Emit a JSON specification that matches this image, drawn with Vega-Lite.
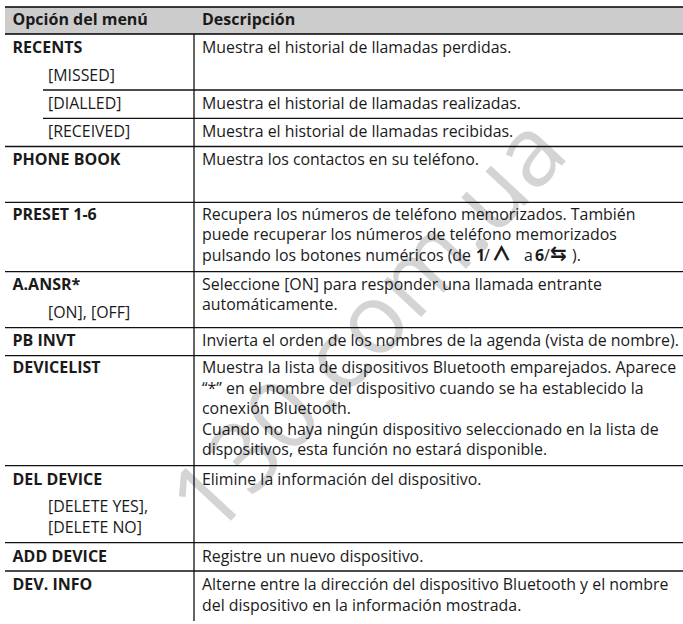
{
  "$schema": "https://vega.github.io/schema/vega-lite/v6.json",
  "width": 683,
  "height": 624,
  "padding": 0,
  "autosize": {"type": "none"},
  "background": "white",
  "config": {"view": {"stroke": null}},
  "datasets": {
    "watermark": [{"text": "130.com.ua", "x": 371, "y": 328}],
    "header": [{"x1": 5, "x2": 683, "y1": 7, "y2": 34}],
    "headerlines": [{"x1": 5, "x2": 683, "y": 7}, {"x1": 5, "x2": 683, "y": 34}],
    "hlines": [
      {"x1": 43, "x2": 683, "y": 90},
      {"x1": 43, "x2": 683, "y": 118.3},
      {"x1": 5, "x2": 683, "y": 146.5},
      {"x1": 5, "x2": 683, "y": 202.3},
      {"x1": 5, "x2": 683, "y": 271.7},
      {"x1": 5, "x2": 683, "y": 327.6},
      {"x1": 5, "x2": 683, "y": 355.6},
      {"x1": 5, "x2": 683, "y": 465.7},
      {"x1": 5, "x2": 683, "y": 542.7},
      {"x1": 5, "x2": 683, "y": 571}
    ],
    "vlines": [{"x": 194, "y1": 34, "y2": 621}],
    "headtext": [
      {"text": "Opción del menú", "x": 12.5, "y": 24.5},
      {"text": "Descripción", "x": 202, "y": 24.5}
    ],
    "options": [
      {"text": "RECENTS", "y": 52.5},
      {"text": "PHONE BOOK", "y": 164.5},
      {"text": "PRESET 1-6", "y": 219.5},
      {"text": "A.ANSR*", "y": 289.5},
      {"text": "PB INVT", "y": 345.5},
      {"text": "DEVICELIST", "y": 373},
      {"text": "DEL DEVICE", "y": 484.5},
      {"text": "ADD DEVICE", "y": 561.5},
      {"text": "DEV. INFO", "y": 590}
    ],
    "subs": [
      {"text": "[MISSED]", "y": 80.5},
      {"text": "[DIALLED]", "y": 108.5},
      {"text": "[RECEIVED]", "y": 136.5},
      {"text": "[ON], [OFF]", "y": 317.5},
      {"text": "[DELETE YES],", "y": 511.5},
      {"text": "[DELETE NO]", "y": 532.5}
    ],
    "desc": [
      {"text": "Muestra el historial de llamadas perdidas.", "y": 52.5},
      {"text": "Muestra el historial de llamadas realizadas.", "y": 108.5},
      {"text": "Muestra el historial de llamadas recibidas.", "y": 136.5},
      {"text": "Muestra los contactos en su teléfono.", "y": 164.5},
      {"text": "Recupera los números de teléfono memorizados. También", "y": 219.5},
      {"text": "puede recuperar los números de teléfono memorizados", "y": 240},
      {"text": "pulsando los botones numéricos (de ", "y": 260.5},
      {"text": "Seleccione [ON] para responder una llamada entrante", "y": 289.5},
      {"text": "automáticamente.", "y": 310},
      {"text": "Invierta el orden de los nombres de la agenda (vista de nombre).", "y": 345.5},
      {"text": "Muestra la lista de dispositivos Bluetooth emparejados. Aparece", "y": 373},
      {"text": "“*” en el nombre del dispositivo cuando se ha establecido la", "y": 393.5},
      {"text": "conexión Bluetooth.", "y": 414},
      {"text": "Cuando no haya ningún dispositivo seleccionado en la lista de", "y": 434.5},
      {"text": "dispositivos, esta función no estará disponible.", "y": 455},
      {"text": "Elimine la información del dispositivo.", "y": 484.5},
      {"text": "Registre un nuevo dispositivo.", "y": 561.5},
      {"text": "Alterne entre la dirección del dispositivo Bluetooth y el nombre", "y": 590},
      {"text": "del dispositivo en la información mostrada.", "y": 610.5}
    ],
    "segreg": [
      {"text": "/", "x": 484, "y": 260.5},
      {"text": "a", "x": 524, "y": 260.5},
      {"text": "/", "x": 544, "y": 260.5},
      {"text": ").", "x": 572, "y": 260.5}
    ],
    "segbold": [
      {"text": "1", "x": 476, "y": 260.5},
      {"text": "6", "x": 535, "y": 260.5}
    ],
    "chevron": [{"text": "∧", "x": 491.5, "y": 260.5}],
    "repeat": [{"text": "⇆", "x": 550, "y": 260}]
  },
  "layer": [
    {
      "data": {"name": "watermark"},
      "mark": {"type": "text", "font": "Open Sans", "fontWeight": "normal", "fontSize": 97, "angle": -47, "align": "center", "baseline": "middle", "color": "#d4d4d4"},
      "encoding": {
        "x": {"field": "x", "type": "quantitative", "scale": {"domain": [0, 683], "nice": false, "zero": false}, "axis": null},
        "y": {"field": "y", "type": "quantitative", "scale": {"domain": [0, 624], "nice": false, "zero": false, "reverse": true}, "axis": null},
        "text": {"field": "text"}
      }
    },
    {
      "data": {"name": "header"},
      "mark": {"type": "rect", "color": "#cccccc"},
      "encoding": {
        "x": {"field": "x1", "type": "quantitative", "axis": null},
        "x2": {"field": "x2"},
        "y": {"field": "y1", "type": "quantitative", "axis": null},
        "y2": {"field": "y2"}
      }
    },
    {
      "data": {"name": "hlines"},
      "mark": {"type": "rule", "color": "#111111", "strokeWidth": 1.3},
      "encoding": {
        "x": {"field": "x1", "type": "quantitative", "axis": null},
        "x2": {"field": "x2"},
        "y": {"field": "y", "type": "quantitative", "axis": null}
      }
    },
    {
      "data": {"name": "headerlines"},
      "mark": {"type": "rule", "color": "#000000", "strokeWidth": 1.6},
      "encoding": {
        "x": {"field": "x1", "type": "quantitative", "axis": null},
        "x2": {"field": "x2"},
        "y": {"field": "y", "type": "quantitative", "axis": null}
      }
    },
    {
      "data": {"name": "vlines"},
      "mark": {"type": "rule", "color": "#111111", "strokeWidth": 1.3},
      "encoding": {
        "x": {"field": "x", "type": "quantitative", "axis": null},
        "y": {"field": "y1", "type": "quantitative", "axis": null},
        "y2": {"field": "y2"}
      }
    },
    {
      "data": {"name": "headtext"},
      "mark": {"type": "text", "font": "Open Sans", "fontWeight": "bold", "fontSize": 16, "align": "left", "baseline": "alphabetic", "color": "#1a1a1a"},
      "encoding": {
        "x": {"field": "x", "type": "quantitative", "axis": null},
        "y": {"field": "y", "type": "quantitative", "axis": null},
        "text": {"field": "text"}
      }
    },
    {
      "data": {"name": "options"},
      "mark": {"type": "text", "font": "Open Sans", "fontWeight": "bold", "fontSize": 16, "align": "left", "baseline": "alphabetic", "color": "#1a1a1a"},
      "encoding": {
        "x": {"datum": 12.5, "type": "quantitative", "axis": null},
        "y": {"field": "y", "type": "quantitative", "axis": null},
        "text": {"field": "text"}
      }
    },
    {
      "data": {"name": "subs"},
      "mark": {"type": "text", "font": "Open Sans", "fontSize": 15.9, "align": "left", "baseline": "alphabetic", "color": "#1a1a1a"},
      "encoding": {
        "x": {"datum": 48, "type": "quantitative", "axis": null},
        "y": {"field": "y", "type": "quantitative", "axis": null},
        "text": {"field": "text"}
      }
    },
    {
      "data": {"name": "desc"},
      "mark": {"type": "text", "font": "Open Sans", "fontSize": 15.9, "align": "left", "baseline": "alphabetic", "color": "#1a1a1a"},
      "encoding": {
        "x": {"datum": 202, "type": "quantitative", "axis": null},
        "y": {"field": "y", "type": "quantitative", "axis": null},
        "text": {"field": "text"}
      }
    },
    {
      "data": {"name": "segreg"},
      "mark": {"type": "text", "font": "Open Sans", "fontSize": 15.9, "align": "left", "baseline": "alphabetic", "color": "#1a1a1a"},
      "encoding": {
        "x": {"field": "x", "type": "quantitative", "axis": null},
        "y": {"field": "y", "type": "quantitative", "axis": null},
        "text": {"field": "text"}
      }
    },
    {
      "data": {"name": "segbold"},
      "mark": {"type": "text", "font": "Open Sans", "fontWeight": "bold", "fontSize": 15.9, "align": "left", "baseline": "alphabetic", "color": "#1a1a1a"},
      "encoding": {
        "x": {"field": "x", "type": "quantitative", "axis": null},
        "y": {"field": "y", "type": "quantitative", "axis": null},
        "text": {"field": "text"}
      }
    },
    {
      "data": {"name": "chevron"},
      "mark": {"type": "text", "font": "Noto Sans CJK JP", "fontWeight": 900, "fontSize": 20, "align": "left", "baseline": "alphabetic", "color": "#1a1a1a"},
      "encoding": {
        "x": {"field": "x", "type": "quantitative", "axis": null},
        "y": {"field": "y", "type": "quantitative", "axis": null},
        "text": {"field": "text"}
      }
    },
    {
      "data": {"name": "repeat"},
      "mark": {"type": "text", "font": "DejaVu Sans", "fontWeight": "bold", "fontSize": 20, "align": "left", "baseline": "alphabetic", "color": "#1a1a1a"},
      "encoding": {
        "x": {"field": "x", "type": "quantitative", "axis": null},
        "y": {"field": "y", "type": "quantitative", "axis": null},
        "text": {"field": "text"}
      }
    }
  ]
}
